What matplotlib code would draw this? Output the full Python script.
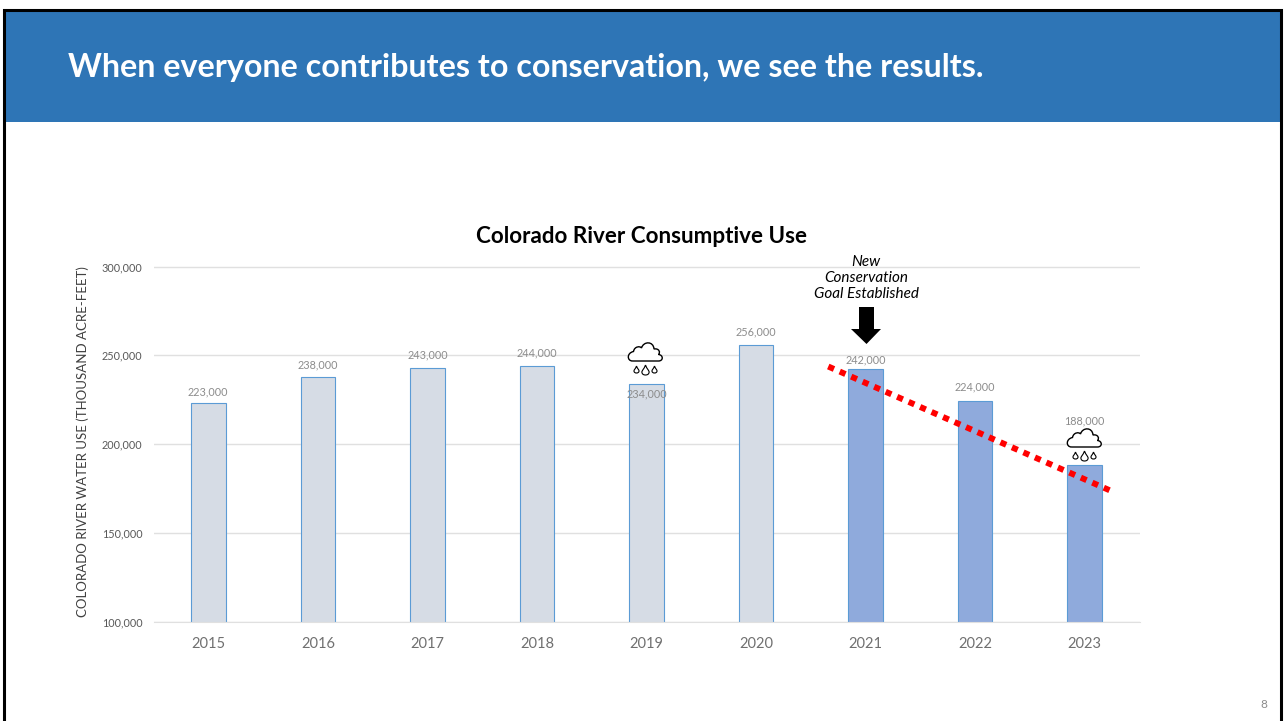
import matplotlib
matplotlib.use('Agg')
import matplotlib.pyplot as plt
from matplotlib.patches import Rectangle, PathPatch, Polygon
from matplotlib.path import Path

plt.rcParams['font.family'] = ['Lato', 'DejaVu Sans']

years = ['2015', '2016', '2017', '2018', '2019', '2020', '2021', '2022', '2023']
water_use = [223000, 238000, 243000, 244000, 234000, 256000, 242000, 224000, 188000]
bar_colors = ['#d6dce5'] * 6 + ['#8faadc'] * 3
y_ticks = [100000, 150000, 200000, 250000, 300000]

W, H = 1286, 721
fig = plt.figure(figsize=(W / 100, H / 100), dpi=100)

# pixel overlay for the slide furniture and icons (y runs downward like the image)
bg = fig.add_axes([0, 0, 1, 1], zorder=0)
bg.set_xlim(0, W)
bg.set_ylim(H, 0)
bg.axis('off')
bg.add_patch(Rectangle((3, 9), 1277, 113, facecolor='#2e75b6', edgecolor='none'))
bg.plot([3.5, 3.5, 1280.5, 1280.5], [721, 9.5, 9.5, 721], color='black', lw=2.2,
        solid_joinstyle='miter')
bg.text(68, 67.5, 'When everyone contributes to conservation, we see the results.',
        color='white', fontsize=23.2, fontweight='bold', va='center', ha='left')
bg.text(1264, 704, '8', color='#8c8c8c', fontsize=8.5, ha='center', va='center')

ax = fig.add_axes([153.5 / W, 1 - 621.5 / H, 986 / W, 355 / H], zorder=1)
ax.patch.set_alpha(0)
x = list(range(len(years)))
ax.bar(x, water_use, width=0.315, color=bar_colors, edgecolor='#5b9bd5', linewidth=0.8, zorder=2)
ax.set_xlim(-0.5, 8.5)
ax.set_ylim(100000, 300000)
ax.set_xticks(x)
ax.set_xticklabels(years, fontsize=10.5, color='#707070')
ax.set_yticks(y_ticks)
ax.set_yticklabels([f'{v:,}' for v in y_ticks], fontsize=7.8, color='#595959')
ax.tick_params(length=0, pad=11.5, axis='x')
ax.tick_params(length=0, pad=7.8, axis='y')
ax.grid(axis='y', color='#e0e0e0', lw=1, zorder=0)
ax.set_axisbelow(True)
for s in ['top', 'right', 'left']:
    ax.spines[s].set_visible(False)
ax.spines['bottom'].set_color('#e0e0e0')
ax.set_ylabel('COLORADO RIVER WATER USE (THOUSAND ACRE-FEET)', fontsize=9.5, color='#404040')
ax.yaxis.set_label_coords((89 - 153.5) / 986, (621.5 - 442) / 355)

# value labels sit by hand as on the slide: 2019 inside its bar, 2023 above the cloud
label_px = [11, 12, 13, 13, -10, 13, 10, 14, 44]
for i, v in enumerate(water_use):
    ax.annotate(f'{v:,}', (i, v), xytext=(0, label_px[i] * 0.72), textcoords='offset points',
                ha='center', va='center', fontsize=7.8, color='#8c8c8c', zorder=3)

# trend line
ax.plot([5.659, 8.232], [243660, 173800], color='#ff0000', lw=4.3, ls=(0, (1.05, 1.05)), zorder=4)

fig.text(641 / W, 1 - 236 / H, 'Colorado River Consumptive Use', fontsize=16.1, fontweight='bold',
         ha='center', va='center', color='black', zorder=5)

top = fig.add_axes([0, 0, 1, 1], zorder=3)
top.set_xlim(0, W)
top.set_ylim(H, 0)
top.axis('off')
for txt, yy in [('New', 261.5), ('Conservation', 277.5), ('Goal Established', 293.5)]:
    top.text(866, yy, txt, style='italic', fontsize=11, ha='center', va='center', color='black')
top.add_patch(Polygon([(859, 307), (874, 307), (874, 329), (881, 329), (866.5, 344),
                       (851, 329), (859, 329)], closed=True, facecolor='black', edgecolor='none'))


def drop(cx, cy, h):
    w = h * 0.36
    verts = [(cx, cy - h / 2), (cx + w * 0.4, cy - h * 0.1), (cx + w, cy + h * 0.05),
             (cx + w, cy + h * 0.2), (cx + w, cy + h * 0.42), (cx + w * 0.5, cy + h / 2), (cx, cy + h / 2),
             (cx - w * 0.5, cy + h / 2), (cx - w, cy + h * 0.42), (cx - w, cy + h * 0.2),
             (cx - w, cy + h * 0.05), (cx - w * 0.4, cy - h * 0.1), (cx, cy - h / 2)]
    codes = [Path.MOVETO] + [Path.CURVE4] * 12
    top.add_patch(PathPatch(Path(verts, codes), facecolor='white', edgecolor='black', lw=0.8))


def cloud(cx, cy):
    # cx, cy: centre of the flat base of the cloud
    p = [(-13, 0), (-18.5, 0), (-19, -8), (-12, -9.5), (-11, -15), (-5, -15), (-4, -13),
         (-2, -20), (8, -20), (8.5, -12), (14, -13), (15, -8), (13, -6.5),
         (18, -6), (18, 0), (13, 0), (-13, 0)]
    codes = [Path.MOVETO] + [Path.CURVE4] * 15 + [Path.LINETO]
    verts = [(cx + a, cy + b) for a, b in p]
    top.add_patch(PathPatch(Path(verts, codes), facecolor='white', edgecolor='black', lw=1.0))
    drop(cx - 9, cy + 8.5, 7)
    drop(cx, cy + 9, 10)
    drop(cx + 9, cy + 8.5, 7)


cloud(645.5, 361)
cloud(1084.5, 447)

fig.savefig('out.png', dpi=100)
